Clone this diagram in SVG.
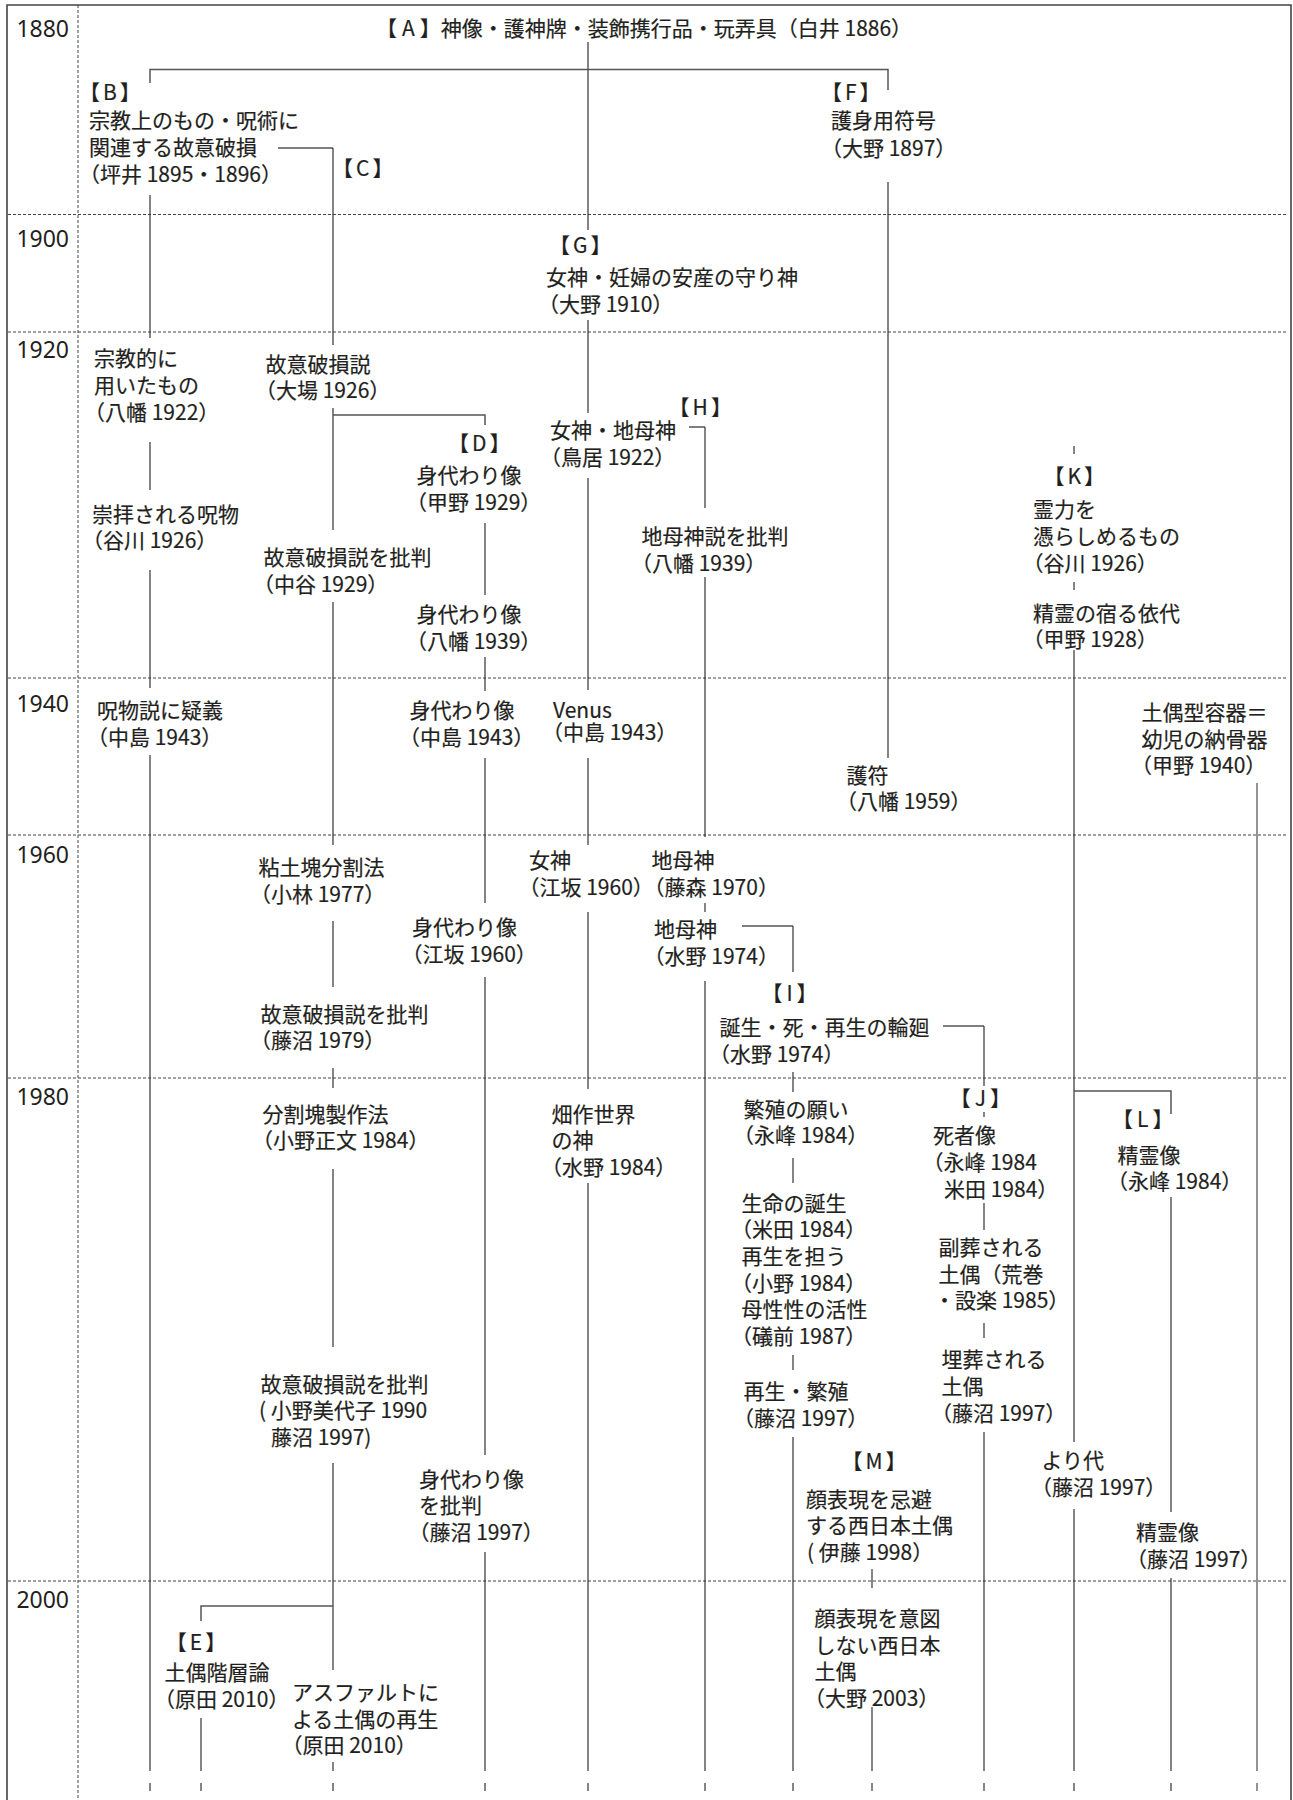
<svg xmlns="http://www.w3.org/2000/svg" width="1293" height="1800" viewBox="0 0 1293 1800">
<style>
.t{font-family:"Noto Sans CJK JP","Noto Sans",sans-serif;font-size:21px;fill:#231f20;stroke:#231f20;stroke-width:0.2}
.yr{font-family:"Noto Sans","Liberation Sans",sans-serif;font-size:23px;fill:#231f20;text-anchor:end}
.ln{stroke:#231f20;stroke-width:1.1;fill:none}
.bar{stroke:#555;stroke-width:1.5;fill:none}
.gr{stroke:#888;stroke-width:1.8;fill:none}
.dash{stroke:#444;stroke-width:1;stroke-dasharray:3 2;fill:none}
.frame{stroke:#444;stroke-width:1.6;fill:none}
</style>
<rect width="1293" height="1800" fill="#fff"/>
<g id="grid">
<polyline class="frame" points="7,1800 7,5 1291,5 1291,1800"/>
<line class="dash" x1="78" y1="5" x2="78" y2="1800"/>
<line class="dash" x1="8" y1="214.5" x2="1286" y2="214.5"/>
<line class="dash" x1="8" y1="332" x2="1286" y2="332"/>
<line class="dash" x1="8" y1="678" x2="1286" y2="678"/>
<line class="dash" x1="8" y1="835" x2="1286" y2="835"/>
<line class="dash" x1="8" y1="1078" x2="1286" y2="1078"/>
<line class="dash" x1="8" y1="1581" x2="1286" y2="1581"/>
<text class="yr" x="69" y="36.5">1880</text>
<text class="yr" x="69" y="246.5">1900</text>
<text class="yr" x="69" y="358">1920</text>
<text class="yr" x="69" y="711.5">1940</text>
<text class="yr" x="69" y="863">1960</text>
<text class="yr" x="69" y="1105">1980</text>
<text class="yr" x="69" y="1608">2000</text>
</g>
<g id="connectors">
<path class="ln" d="M588,42V230"/>
<path class="bar" d="M150,83V69.5H888V90"/>
<path class="ln" d="M150,195V338M150,442V490M150,570V688M150,755V1771"/>
<path class="bar" d="M278,148H333"/>
<path class="ln" d="M333,148V345M333,408V530M333,602V845M333,921V987M333,1068V1088M333,1169V1347M333,1463V1670M333,1762V1771"/>
<path class="bar" d="M333,415H485V425"/>
<path class="bar" d="M333,1606H201V1621"/>
<path class="ln" d="M201,1718V1771"/>
<path class="ln" d="M485,523V595M485,657V691M485,758V903M485,977V1455M485,1552V1771"/>
<path class="ln" d="M588,320V413M588,478V690M588,758V845M588,912V1089M588,1183V1771"/>
<path class="ln" d="M888,182V758"/>
<path class="bar" d="M689,427H705"/>
<path class="ln" d="M705,427V508M705,577V837M705,903V912M705,981V1771"/>
<path class="bar" d="M742,926H793"/>
<path class="ln" d="M793,926V972M793,1072V1092M793,1158V1183M793,1355V1370M793,1437V1771"/>
<path class="bar" d="M943,1026H984"/>
<path class="ln" d="M984,1026V1086M984,1112V1117M984,1203V1230M984,1323V1338M984,1432V1771"/>
<path class="ln" d="M872,1569V1588M872,1707V1771"/>
<path class="ln" d="M1074,446V454M1074,582V590M1074,650V1442M1074,1509V1771"/>
<path class="bar" d="M1074,1091H1171V1114"/>
<path class="ln" d="M1171,1197V1512M1171,1578V1771"/>
<path class="gr" d="M1257,783V1771"/>
<path class="ln" d="M150,1783V1791M201,1783V1791M333,1783V1791M485,1783V1791M588,1783V1791M705,1783V1791M793,1783V1791M872,1783V1791M984,1783V1791M1074,1783V1791M1171,1783V1791"/>
<path class="gr" d="M1257,1783V1791"/>
</g>
<g id="node-A"><text class="t" x="376" y="36">【<tspan dx="5">A</tspan><tspan dx="5">】</tspan>神像・護神牌・装飾携行品・玩弄具（白井 1886）</text></g>
<g id="node-B"><text class="t"><tspan x="79" y="100">【</tspan><tspan dx="3">B</tspan><tspan dx="3">】</tspan><tspan x="89" y="128.3">宗教上のもの・呪術に</tspan><tspan x="89" y="155">関連する故意破損</tspan><tspan x="79" y="181.7">（坪井 1895・1896）</tspan></text></g>
<g id="node-C"><text class="t" x="332" y="176">【<tspan dx="3">C</tspan><tspan dx="3">】</tspan></text></g>
<g id="node-F"><text class="t"><tspan x="821" y="100">【</tspan><tspan dx="3">F</tspan><tspan dx="3">】</tspan><tspan x="831" y="128.3">護身用符号</tspan><tspan x="821" y="156">（大野 1897）</tspan></text></g>
<g id="node-G"><text class="t"><tspan x="549" y="253">【</tspan><tspan dx="3">G</tspan><tspan dx="3">】</tspan><tspan x="546" y="284.5">女神・妊婦の安産の守り神</tspan><tspan x="538" y="311.5">（大野 1910）</tspan></text></g>
<g id="node-C1"><text class="t"><tspan x="265.5" y="371.6">故意破損説</tspan><tspan x="255" y="398.3">（大場 1926）</tspan></text></g>
<g id="node-C2"><text class="t"><tspan x="263.5" y="565">故意破損説を批判</tspan><tspan x="253" y="591.7">（中谷 1929）</tspan></text></g>
<g id="node-C3"><text class="t"><tspan x="258.5" y="875">粘土塊分割法</tspan><tspan x="250" y="901.7">（小林 1977）</tspan></text></g>
<g id="node-C4"><text class="t"><tspan x="260.5" y="1021.6">故意破損説を批判</tspan><tspan x="250" y="1048.3">（藤沼 1979）</tspan></text></g>
<g id="node-C5"><text class="t"><tspan x="262.5" y="1121.6">分割塊製作法</tspan><tspan x="252" y="1148.3">（小野正文 1984）</tspan></text></g>
<g id="node-C6"><text class="t"><tspan x="260.5" y="1391.6">故意破損説を批判</tspan><tspan x="259" y="1418.3">( 小野美代子 1990</tspan><tspan x="271" y="1445">藤沼 1997)</tspan></text></g>
<g id="node-D"><text class="t"><tspan x="448" y="451">【</tspan><tspan dx="3">D</tspan><tspan dx="3">】</tspan><tspan x="416.5" y="483.3">身代わり像</tspan><tspan x="406" y="510">（甲野 1929）</tspan></text></g>
<g id="node-D2"><text class="t"><tspan x="416.5" y="622.3">身代わり像</tspan><tspan x="406" y="649">（八幡 1939）</tspan></text></g>
<g id="node-D3"><text class="t"><tspan x="409.5" y="718">身代わり像</tspan><tspan x="399" y="744.7">（中島 1943）</tspan></text></g>
<g id="node-D4"><text class="t"><tspan x="412" y="935">身代わり像</tspan><tspan x="401.5" y="961.7">（江坂 1960）</tspan></text></g>
<g id="node-D5"><text class="t"><tspan x="419" y="1486.6">身代わり像</tspan><tspan x="419" y="1513.3">を批判</tspan><tspan x="408.5" y="1540">（藤沼 1997）</tspan></text></g>
<g id="node-B1"><text class="t"><tspan x="94" y="366">宗教的に</tspan><tspan x="94" y="393">用いたもの</tspan><tspan x="84" y="420">（八幡 1922）</tspan></text></g>
<g id="node-B2"><text class="t"><tspan x="92" y="521.6">崇拝される呪物</tspan><tspan x="82" y="548.3">（谷川 1926）</tspan></text></g>
<g id="node-B3"><text class="t"><tspan x="97" y="718">呪物説に疑義</tspan><tspan x="87" y="744.7">（中島 1943）</tspan></text></g>
<g id="node-G2"><text class="t"><tspan x="550" y="438.3">女神・地母神</tspan><tspan x="540" y="465">（鳥居 1922）</tspan></text></g>
<g id="node-G3"><text class="t"><tspan x="553" y="718">Venus</tspan><tspan x="542" y="740">（中島 1943）</tspan></text></g>
<g id="node-G4"><text class="t"><tspan x="529" y="868.3">女神</tspan><tspan x="518.5" y="895">（江坂 1960）</tspan></text></g>
<g id="node-G5"><text class="t"><tspan x="551.5" y="1121.6">畑作世界</tspan><tspan x="551.5" y="1148.3">の神</tspan><tspan x="541" y="1175">（水野 1984）</tspan></text></g>
<g id="node-H"><text class="t" x="668.6" y="415">【<tspan dx="3">H</tspan><tspan dx="3">】</tspan></text></g>
<g id="node-H2"><text class="t"><tspan x="641.5" y="544">地母神説を批判</tspan><tspan x="631" y="570.7">（八幡 1939）</tspan></text></g>
<g id="node-H3"><text class="t"><tspan x="651.5" y="868.3">地母神</tspan><tspan x="643.6" y="895">（藤森 1970）</tspan></text></g>
<g id="node-H4"><text class="t"><tspan x="654" y="937.3">地母神</tspan><tspan x="643.6" y="964">（水野 1974）</tspan></text></g>
<g id="node-I"><text class="t"><tspan x="761.4" y="1001">【</tspan><tspan dx="4">I</tspan><tspan dx="4">】</tspan><tspan x="719.5" y="1035">誕生・死・再生の輪廻</tspan><tspan x="709" y="1061.7">（水野 1974）</tspan></text></g>
<g id="node-I2"><text class="t"><tspan x="743.5" y="1116.6">繁殖の願い</tspan><tspan x="733" y="1143.3">（永峰 1984）</tspan></text></g>
<g id="node-I3"><text class="t"><tspan x="741.5" y="1210.6">生命の誕生</tspan><tspan x="731" y="1237.3">（米田 1984）</tspan><tspan x="741.5" y="1264">再生を担う</tspan><tspan x="731" y="1290.7">（小野 1984）</tspan><tspan x="741.5" y="1317.3">母性性の活性</tspan><tspan x="731" y="1344">（礒前 1987）</tspan></text></g>
<g id="node-I4"><text class="t"><tspan x="743.5" y="1399.3">再生・繁殖</tspan><tspan x="733" y="1426">（藤沼 1997）</tspan></text></g>
<g id="node-J"><text class="t" x="949.7" y="1105.5">【<tspan dx="4">J</tspan><tspan dx="4">】</tspan></text></g>
<g id="node-J2"><text class="t"><tspan x="933" y="1143.3">死者像</tspan><tspan x="922.5" y="1170">（永峰 1984</tspan><tspan x="944" y="1197">米田 1984）</tspan></text></g>
<g id="node-J3"><text class="t"><tspan x="938.5" y="1255">副葬される</tspan><tspan x="938.5" y="1281.6">土偶（荒巻</tspan><tspan x="934" y="1308.3">・設楽 1985）</tspan></text></g>
<g id="node-J4"><text class="t"><tspan x="941.5" y="1367.3">埋葬される</tspan><tspan x="941.5" y="1394">土偶</tspan><tspan x="931" y="1420.7">（藤沼 1997）</tspan></text></g>
<g id="node-K"><text class="t"><tspan x="1043.4" y="483.5">【</tspan><tspan dx="3">K</tspan><tspan dx="3">】</tspan><tspan x="1033" y="517.3">霊力を</tspan><tspan x="1033" y="544">憑らしめるもの</tspan><tspan x="1022.5" y="570.7">（谷川 1926）</tspan></text></g>
<g id="node-K2"><text class="t"><tspan x="1033" y="620.6">精霊の宿る依代</tspan><tspan x="1022.5" y="647.3">（甲野 1928）</tspan></text></g>
<g id="node-K3"><text class="t"><tspan x="1041.5" y="1468.3">より代</tspan><tspan x="1031" y="1495">（藤沼 1997）</tspan></text></g>
<g id="node-L"><text class="t"><tspan x="1112" y="1127">【</tspan><tspan dx="4">L</tspan><tspan dx="4">】</tspan><tspan x="1117.5" y="1162.6">精霊像</tspan><tspan x="1107" y="1189.3">（永峰 1984）</tspan></text></g>
<g id="node-L2"><text class="t"><tspan x="1136" y="1540">精霊像</tspan><tspan x="1126" y="1566.7">（藤沼 1997）</tspan></text></g>
<g id="node-vessel"><text class="t"><tspan x="1141.5" y="720">土偶型容器＝</tspan><tspan x="1141.5" y="746.6">幼児の納骨器</tspan><tspan x="1131" y="773.3">（甲野 1940）</tspan></text></g>
<g id="node-F2"><text class="t"><tspan x="846.5" y="782.6">護符</tspan><tspan x="836" y="809.3">（八幡 1959）</tspan></text></g>
<g id="node-M"><text class="t"><tspan x="841.4" y="1469">【</tspan><tspan dx="3">M</tspan><tspan dx="3">】</tspan><tspan x="806" y="1506.6">顔表現を忌避</tspan><tspan x="806" y="1533.3">する西日本土偶</tspan><tspan x="807" y="1560">( 伊藤 1998）</tspan></text></g>
<g id="node-M2"><text class="t"><tspan x="814.5" y="1626">顔表現を意図</tspan><tspan x="814.5" y="1652.6">しない西日本</tspan><tspan x="814.5" y="1679.3">土偶</tspan><tspan x="804" y="1706">（大野 2003）</tspan></text></g>
<g id="node-E"><text class="t"><tspan x="165.8" y="1650">【</tspan><tspan dx="3">E</tspan><tspan dx="3">】</tspan><tspan x="164.5" y="1680">土偶階層論</tspan><tspan x="154" y="1706.7">（原田 2010）</tspan></text></g>
<g id="node-E2"><text class="t"><tspan x="292" y="1700">アスファルトに</tspan><tspan x="292" y="1726.6">よる土偶の再生</tspan><tspan x="281.5" y="1753.3">（原田 2010）</tspan></text></g>
</svg>
